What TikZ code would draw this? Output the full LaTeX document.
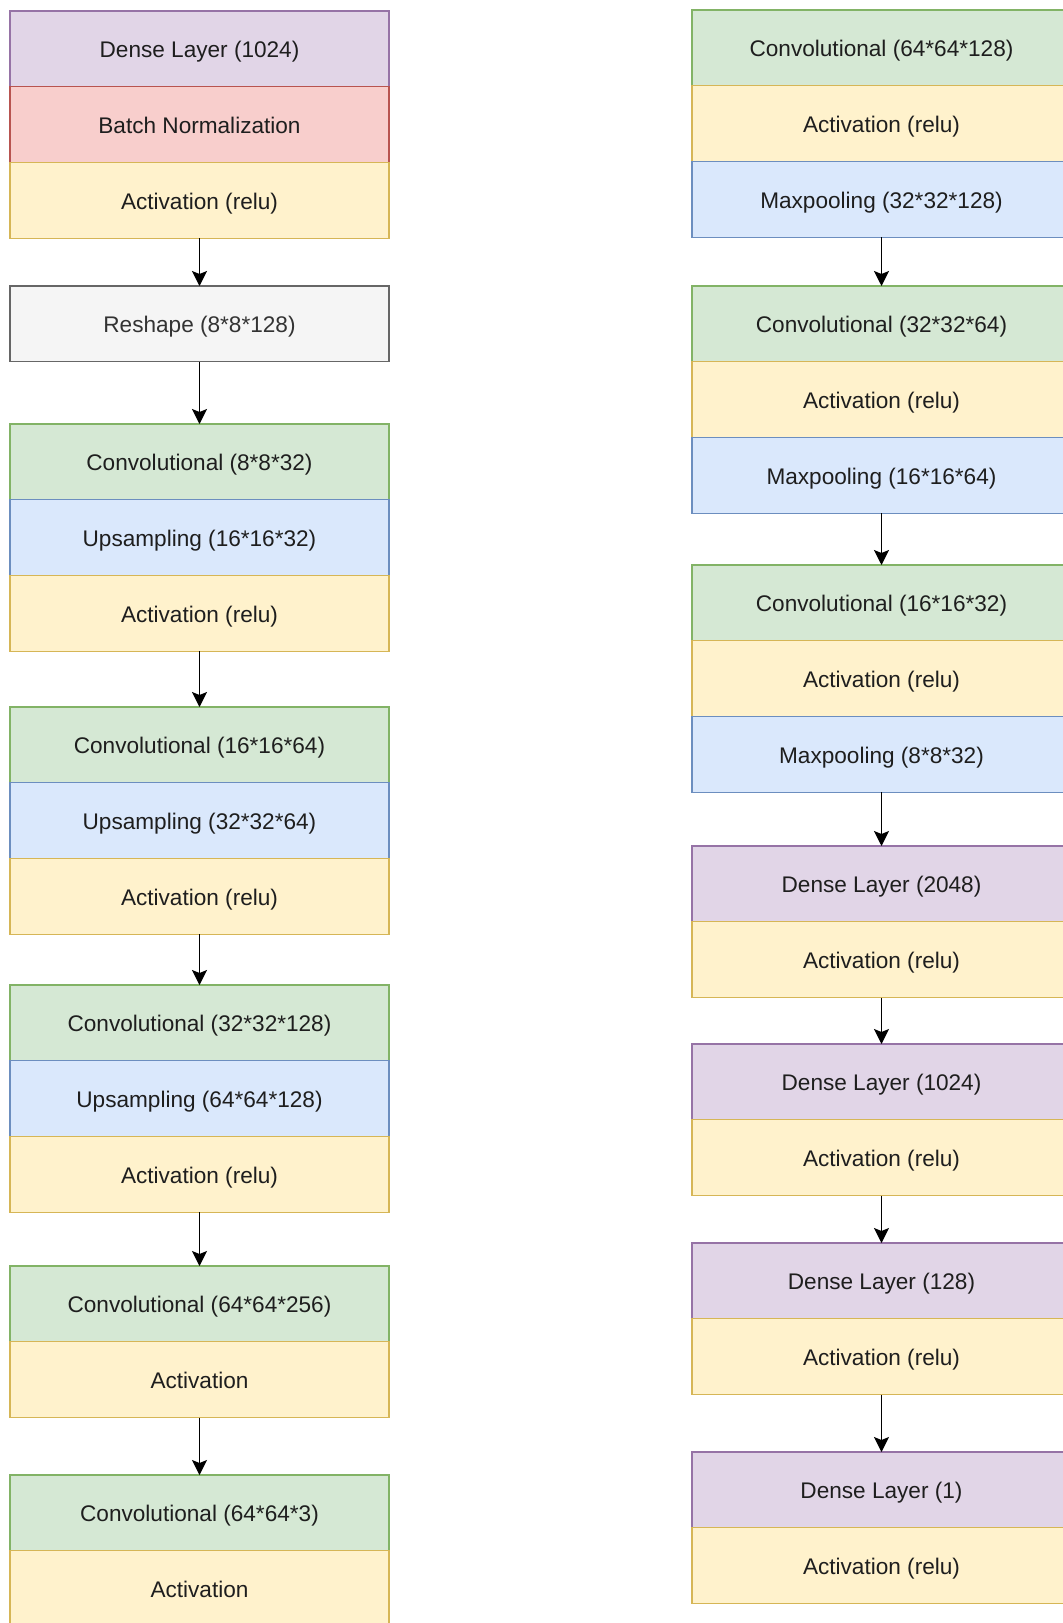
\documentclass[tikz,border=0pt]{standalone}
\usepackage{fontspec}
\setmainfont{Liberation Sans}
\usetikzlibrary{arrows.meta}
\definecolor{purF}{HTML}{E1D5E7}\definecolor{purD}{HTML}{9673A6}
\definecolor{redF}{HTML}{F8CECC}\definecolor{redD}{HTML}{B85450}
\definecolor{yelF}{HTML}{FFF2CC}\definecolor{yelD}{HTML}{D6B656}
\definecolor{gryF}{HTML}{F5F5F5}\definecolor{gryD}{HTML}{666666}
\definecolor{grnF}{HTML}{D5E8D4}\definecolor{grnD}{HTML}{82B366}
\definecolor{bluF}{HTML}{DAE8FC}\definecolor{bluD}{HTML}{6C8EBF}
\definecolor{txt}{HTML}{1E1E1E}
\definecolor{txtg}{HTML}{333333}
\tikzset{
  layer/.style={draw, line width=0.6pt, minimum width=189.5pt, minimum height=37.9pt,
    inner sep=0pt, outer sep=0pt, anchor=north west, text=txt,
    text height=11.2pt, text depth=2.4pt,
    font=\fontsize{11.3}{13}\selectfont},
  dense/.style={layer, fill=purF, draw=purD},
  bnorm/.style={layer, fill=redF, draw=redD},
  act/.style={layer, fill=yelF, draw=yelD},
  resh/.style={layer, fill=gryF, draw=gryD, text=txtg},
  conv/.style={layer, fill=grnF, draw=grnD},
  samp/.style={layer, fill=bluF, draw=bluD},
  flow/.style={draw=black, line width=0.8pt, -{Stealth[length=7.5pt,width=7.5pt,inset=1.5pt]}}
}
\begin{document}
\begin{tikzpicture}[x=0.5pt,y=-0.5pt]
\useasboundingbox (0,0) rectangle (1063,1623);
\clip (0,0) rectangle (1063,1623);
\fill[white] (0,0) rectangle (1063,1623);
% ---------------- left column ----------------
\node[dense] (l1) at (10,11) {Dense Layer (1024)};
\node[bnorm] (l2) at (l1.south west) {Batch Normalization};
\node[act] (l3) at (l2.south west) {Activation (relu)};
\node[resh] (l4) at (10,286) {Reshape (8*8*128)};
\node[conv] (l5) at (10,424) {Convolutional (8*8*32)};
\node[samp] (l6) at (l5.south west) {Upsampling (16*16*32)};
\node[act] (l7) at (l6.south west) {Activation (relu)};
\node[conv] (l8) at (10,707) {Convolutional (16*16*64)};
\node[samp] (l9) at (l8.south west) {Upsampling (32*32*64)};
\node[act] (l10) at (l9.south west) {Activation (relu)};
\node[conv] (l11) at (10,985) {Convolutional (32*32*128)};
\node[samp] (l12) at (l11.south west) {Upsampling (64*64*128)};
\node[act] (l13) at (l12.south west) {Activation (relu)};
\node[conv] (l14) at (10,1266) {Convolutional (64*64*256)};
\node[act] (l15) at (l14.south west) {Activation};
\node[conv] (l16) at (10,1475) {Convolutional (64*64*3)};
\node[act] (l17) at (l16.south west) {Activation};
\draw[flow] (l3) -- (l4);
\draw[flow] (l4) -- (l5);
\draw[flow] (l7) -- (l8);
\draw[flow] (l10) -- (l11);
\draw[flow] (l13) -- (l14);
\draw[flow] (l15) -- (l16);
% ---------------- right column ----------------
\node[conv] (r1) at (692,10) {Convolutional (64*64*128)};
\node[act] (r2) at (r1.south west) {Activation (relu)};
\node[samp] (r3) at (r2.south west) {Maxpooling (32*32*128)};
\node[conv] (r4) at (692,286) {Convolutional (32*32*64)};
\node[act] (r5) at (r4.south west) {Activation (relu)};
\node[samp] (r6) at (r5.south west) {Maxpooling (16*16*64)};
\node[conv] (r7) at (692,565) {Convolutional (16*16*32)};
\node[act] (r8) at (r7.south west) {Activation (relu)};
\node[samp] (r9) at (r8.south west) {Maxpooling (8*8*32)};
\node[dense] (r10) at (692,846) {Dense Layer (2048)};
\node[act] (r11) at (r10.south west) {Activation (relu)};
\node[dense] (r12) at (692,1044) {Dense Layer (1024)};
\node[act] (r13) at (r12.south west) {Activation (relu)};
\node[dense] (r14) at (692,1243) {Dense Layer (128)};
\node[act] (r15) at (r14.south west) {Activation (relu)};
\node[dense] (r16) at (692,1452) {Dense Layer (1)};
\node[act] (r17) at (r16.south west) {Activation (relu)};
\draw[flow] (r3) -- (r4);
\draw[flow] (r6) -- (r7);
\draw[flow] (r9) -- (r10);
\draw[flow] (r11) -- (r12);
\draw[flow] (r13) -- (r14);
\draw[flow] (r15) -- (r16);
\end{tikzpicture}
\end{document}
